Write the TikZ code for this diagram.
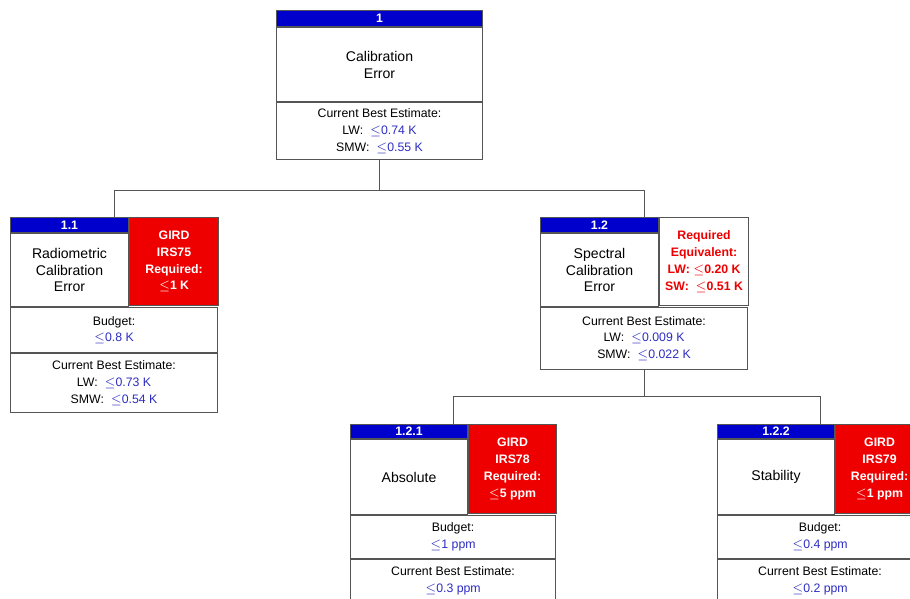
\documentclass[tikz,border=0pt]{standalone}
\usepackage{fontspec}
\setmainfont{Liberation Sans}
\usetikzlibrary{positioning}
\definecolor{hdrblue}{RGB}{0,0,205}
\definecolor{reqred}{RGB}{238,0,0}
\definecolor{valblue}{RGB}{45,45,195}
\definecolor{edge}{RGB}{85,85,85}
\newcommand{\val}[1]{\textcolor{valblue}{#1}}

\tikzset{
  cell/.style={draw=edge, line width=0.6pt, fill=white, inner sep=0pt, anchor=north west,
    align=center, font=\fontsize{7}{9.6}\selectfont},
  titlecell/.style={cell, font=\fontsize{8}{9.6}\selectfont},
  hdr/.style={cell, fill=hdrblue, text=white, font=\fontsize{7}{8}\selectfont\bfseries},
  req/.style={cell, fill=reqred, text=white, font=\fontsize{7}{9.6}\selectfont\bfseries},
  reqtext/.style={cell, text=reqred, font=\fontsize{7}{9.6}\selectfont\bfseries},
  conn/.style={draw=edge, line width=0.6pt},
}

\begin{document}
\begin{tikzpicture}
\useasboundingbox (0,0) rectangle (18.2,-11.98);
% Top level
\node[hdr, minimum width=4.12cm, minimum height=0.32cm] (t-hdr) at (5.52,-0.2) {1};
\node[titlecell, minimum width=4.12cm, minimum height=1.48cm] (t-ttl) at (t-hdr.south west) {Calibration\\Error};
\node[cell, minimum width=4.12cm, minimum height=1.14cm] (t-est) at (t-ttl.south west)
  {Current Best Estimate:\\LW:\ \ \val{$\le$0.74 K}\\SMW:\ \ \val{$\le$0.55 K}};
% Radiometric
\node[hdr, minimum width=2.36cm, minimum height=0.3cm] (a-hdr) at (0.2,-4.34) {1.1};
\node[titlecell, minimum width=2.36cm, minimum height=1.46cm] (a-ttl) at (a-hdr.south west) {Radiometric\\Calibration\\Error};
\node[req, minimum width=1.78cm, minimum height=1.76cm] (a-req) at (a-hdr.north east) {GIRD\\IRS75\\Required:\\$\le$1 K};
\node[cell, minimum width=4.14cm, minimum height=0.9cm] (a-bud) at (a-ttl.south west) {Budget:\\\val{$\le$0.8 K}};
\node[cell, minimum width=4.14cm, minimum height=1.18cm] (a-est) at (a-bud.south west)
  {Current Best Estimate:\\LW:\ \ \val{$\le$0.73 K}\\SMW:\ \ \val{$\le$0.54 K}};
% Spectral
\node[hdr, minimum width=2.36cm, minimum height=0.3cm] (b-hdr) at (10.8,-4.34) {1.2};
\node[titlecell, minimum width=2.36cm, minimum height=1.46cm] (b-ttl) at (b-hdr.south west) {Spectral\\Calibration\\Error};
\node[reqtext, minimum width=1.78cm, minimum height=1.76cm] (b-req) at (b-hdr.north east) {Required\\Equivalent:\\LW: $\le$0.20 K\\SW:\ \ $\le$0.51 K};
\node[cell, minimum width=4.14cm, minimum height=1.24cm] (b-est) at (b-ttl.south west)
  {Current Best Estimate:\\LW:\ \ \val{$\le$0.009 K}\\SMW:\ \ \val{$\le$0.022 K}};
% Absolute
\node[hdr, minimum width=2.34cm, minimum height=0.28cm] (c-hdr) at (7.0,-8.48) {1.2.1};
\node[titlecell, minimum width=2.34cm, minimum height=1.5cm] (c-ttl) at (c-hdr.south west) {Absolute};
\node[req, minimum width=1.76cm, minimum height=1.78cm] (c-req) at (c-hdr.north east) {GIRD\\IRS78\\Required:\\$\le$5 ppm};
\node[cell, minimum width=4.1cm, minimum height=0.86cm] (c-bud) at (c-ttl.south west) {Budget:\\\val{$\le$1 ppm}};
\node[cell, minimum width=4.1cm, minimum height=0.84cm] (c-est) at (c-bud.south west) {Current Best Estimate:\\\val{$\le$0.3 ppm}};
% Stability
\node[hdr, minimum width=2.34cm, minimum height=0.28cm] (d-hdr) at (14.34,-8.48) {1.2.2};
\node[titlecell, minimum width=2.34cm, minimum height=1.5cm] (d-ttl) at (d-hdr.south west) {Stability};
\node[req, minimum width=1.76cm, minimum height=1.78cm] (d-req) at (d-hdr.north east) {GIRD\\IRS79\\Required:\\$\le$1 ppm};
\node[cell, minimum width=4.1cm, minimum height=0.86cm] (d-bud) at (d-ttl.south west) {Budget:\\\val{$\le$0.4 ppm}};
\node[cell, minimum width=4.1cm, minimum height=0.84cm] (d-est) at (d-bud.south west) {Current Best Estimate:\\\val{$\le$0.2 ppm}};
% Tree lines
\draw[conn] (t-est.south) -- ++(0,-0.6) coordinate (j1);
\draw[conn] (a-bud.north |- a-hdr.north) |- (j1) -| (b-est.north |- b-hdr.north);
\draw[conn] (b-est.south) -- ++(0,-0.52) coordinate (j2);
\draw[conn] (c-bud.north |- c-hdr.north) |- (j2) -| (d-bud.north |- d-hdr.north);
\end{tikzpicture}
\end{document}
